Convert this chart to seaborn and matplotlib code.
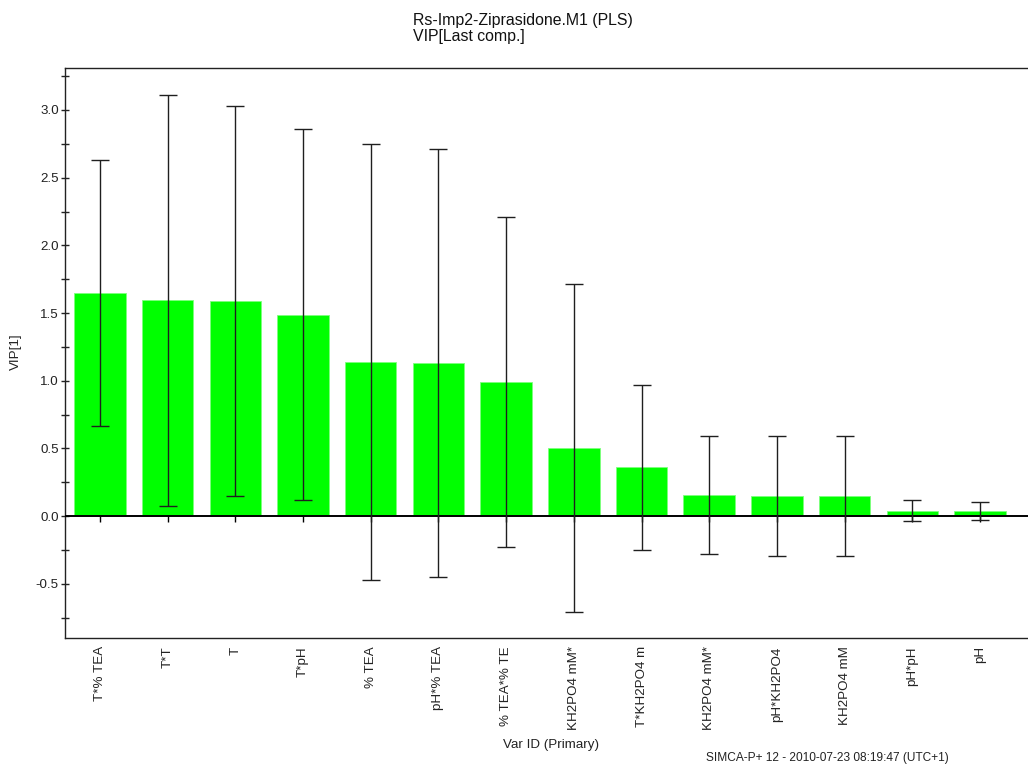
import matplotlib
matplotlib.use("Agg")
import matplotlib.pyplot as plt
import seaborn as sns
import numpy as np
import pandas as pd

# Variable importance (VIP) of the last PLS component, with jack-knife intervals
var_ids = ["T*% TEA", "T*T", "T", "T*pH", "% TEA", "pH*% TEA", "% TEA*% TE",
           "KH2PO4 mM*", "T*KH2PO4 m", "KH2PO4 mM*", "pH*KH2PO4", "KH2PO4 mM",
           "pH*pH", "pH"]
vip = [1.649, 1.593, 1.588, 1.488, 1.140, 1.131, 0.991,
       0.505, 0.360, 0.158, 0.148, 0.148, 0.041, 0.038]
vip_ci = [0.982, 1.521, 1.442, 1.372, 1.609, 1.581, 1.222,
          1.210, 0.611, 0.436, 0.446, 0.446, 0.079, 0.066]

title_lines = ["Rs-Imp2-Ziprasidone.M1 (PLS)", "VIP[Last comp.]"]
footer = "SIMCA-P+ 12 - 2010-07-23 08:19:47 (UTC+1)"

sns.set_theme(style="white")
plt.rcParams["font.family"] = ["Liberation Sans", "DejaVu Sans"]

W, H = 1028, 764
fig = plt.figure(figsize=(W / 100, H / 100), dpi=100)
ax = fig.add_axes([65 / W, 1 - 638 / H, 1 - 65 / W, (638 - 68) / H])

df = pd.DataFrame({"pos": np.arange(len(var_ids)), "vip": vip})
sns.barplot(data=df, x="pos", y="vip", color="#00ff00", saturation=1,
            width=0.76, edgecolor="#7dff7d", linewidth=0.6, ax=ax)
ax.errorbar(df["pos"], df["vip"], yerr=vip_ci, fmt="none", ecolor="#1f1f1f",
            elinewidth=1.0, capsize=6.8, capthick=1.0, zorder=4)

# zero line with its own category ticks
ax.axhline(0, color="black", lw=1.4, zorder=3)
ax.plot(df["pos"], np.zeros(len(df)), ls="none", marker=3, ms=4,
        mec="black", mew=1.0, zorder=3)

ax.set_xlim(-0.517, 13.71)
ax.set_ylim(-0.90, 3.31)

fs = 9.6
ax.set_xticks(df["pos"])
ax.set_xticklabels(var_ids, rotation=90, fontsize=fs, va="top")
ax.tick_params(axis="x", length=0, pad=6, colors="#222222")

yt = np.arange(-0.5, 3.01, 0.5)
ax.set_yticks(yt)
ax.set_yticklabels([f"{v:.1f}" for v in yt], fontsize=fs)
ax.set_yticks(np.arange(-0.75, 3.3, 0.25), minor=True)
ax.tick_params(axis="y", which="both", direction="inout", length=6, width=1,
               left=True, pad=1.5, colors="#222222")

for side in ["left", "top", "bottom"]:
    ax.spines[side].set_visible(True)
    ax.spines[side].set_color("#222222")
    ax.spines[side].set_linewidth(1.0)
ax.spines["right"].set_visible(False)

ax.set_xlabel("")
ax.set_ylabel("")
fig.text(16 / W, 1 - 352 / H, "VIP[1]", rotation=90, ha="center", va="center",
         fontsize=fs, color="#222222")
fig.text(551 / W, 1 - 745 / H, "Var ID (Primary)", ha="center", va="center",
         fontsize=fs, color="#222222")

fig.text(413 / W, 1 - 20 / H, title_lines[0], ha="left", va="center",
         fontsize=11.4, color="#111111")
fig.text(413 / W, 1 - 37 / H, title_lines[1], ha="left", va="center",
         fontsize=11.4, color="#111111")
fig.text(706 / W, 1 - 758 / H, footer, ha="left", va="center",
         fontsize=8.6, color="#222222")

fig.savefig("out.png", dpi=100)
